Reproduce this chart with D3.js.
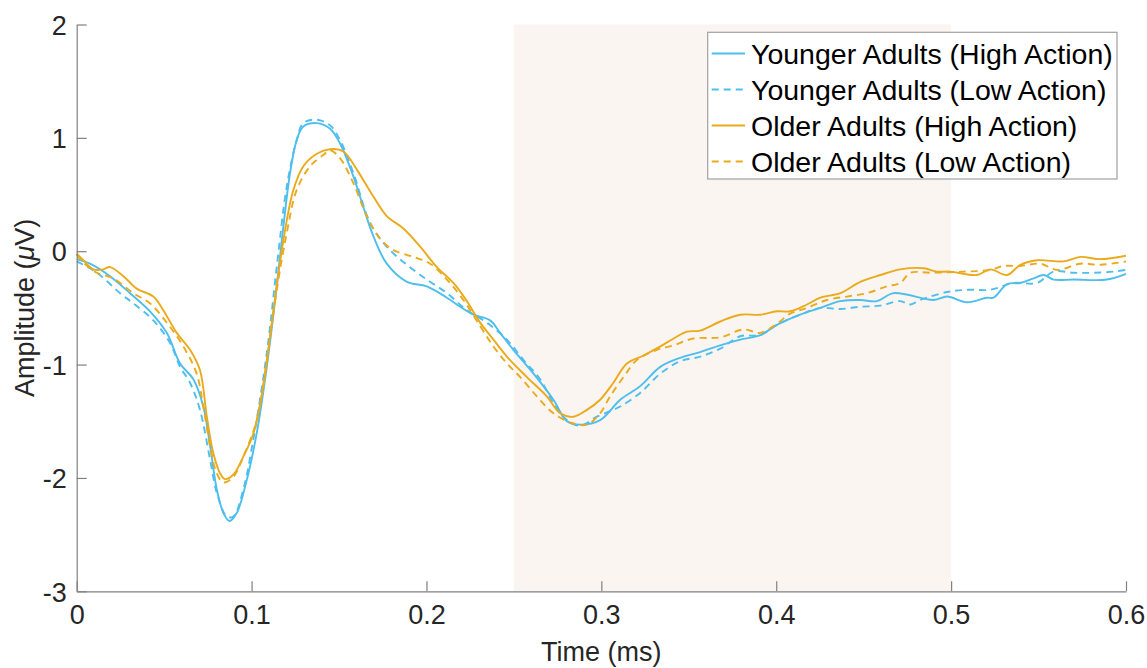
<!DOCTYPE html>
<html>
<head>
<meta charset="utf-8">
<script src="https://cdn.jsdelivr.net/npm/d3@7"></script>
<style>
  html, body { margin: 0; padding: 0; background: #fff; }
  svg { display: block; font-family: "Liberation Sans", Arial, sans-serif; }
</style>
</head>
<body>
<svg id="chart" width="1147" height="668"></svg>
<script>
// ---- data ----
const seriesNames = [
  "Younger Adults (High Action)",
  "Younger Adults (Low Action)",
  "Older Adults (High Action)",
  "Older Adults (Low Action)"
];
const xTicks = [0, 0.1, 0.2, 0.3, 0.4, 0.5, 0.6];
const yTicks = [-3, -2, -1, 0, 1, 2];
const shadeWindow = [0.25, 0.5];

const youngHighT = [0,0.0076,0.019,0.0305,0.0419,0.0515,0.0591,0.0667,0.0724,0.0763,0.0801,0.0839,0.0873,0.0915,0.0972,0.1030,0.1087,0.1144,0.1182,0.1220,0.1258,0.1296,0.1373,0.1449,0.1506,0.1582,0.1639,0.1697,0.1773,0.1888,0.2002,0.2117,0.2193,0.2269,0.2364,0.2421,0.2497,0.2612,0.2726,0.2803,0.2879,0.2993,0.3108,0.3222,0.3337,0.3451,0.3565,0.3680,0.3794,0.3909,0.4004,0.4137,0.4252,0.4366,0.4481,0.4576,0.4671,0.4900,0.4977,0.5091,0.5205,0.5243,0.5320,0.5396,0.5472,0.5529,0.5586,0.5701,0.5891,0.6];
const youngHighV = [-0.07,-0.11,-0.22,-0.37,-0.53,-0.72,-0.99,-1.13,-1.37,-1.72,-2.10,-2.31,-2.38,-2.31,-2.02,-1.60,-1.02,-0.31,0.22,0.69,0.98,1.10,1.13,1.08,0.95,0.66,0.39,0.13,-0.11,-0.27,-0.31,-0.41,-0.49,-0.56,-0.61,-0.72,-0.87,-1.08,-1.31,-1.50,-1.53,-1.49,-1.31,-1.19,-1.02,-0.94,-0.89,-0.83,-0.78,-0.74,-0.65,-0.56,-0.50,-0.44,-0.43,-0.44,-0.37,-0.43,-0.40,-0.45,-0.41,-0.41,-0.29,-0.28,-0.24,-0.21,-0.25,-0.25,-0.25,-0.20];

const youngLowT = [0,0.0076,0.0133,0.0248,0.0324,0.0438,0.0534,0.0591,0.0648,0.0705,0.0763,0.0801,0.0858,0.0896,0.0953,0.1010,0.1087,0.1144,0.1201,0.1258,0.1296,0.1373,0.1449,0.1506,0.1582,0.1678,0.1773,0.1888,0.2002,0.2117,0.2231,0.2345,0.2460,0.2555,0.2650,0.2726,0.2803,0.2879,0.2974,0.3050,0.3108,0.3222,0.3337,0.3451,0.3565,0.3680,0.3794,0.3909,0.4004,0.4137,0.4252,0.4366,0.4481,0.4595,0.4709,0.4767,0.4824,0.4977,0.5091,0.5224,0.5358,0.5491,0.5586,0.5701,0.5815,0.5930,0.6];
const youngLowV = [-0.09,-0.15,-0.21,-0.37,-0.46,-0.61,-0.81,-1.02,-1.16,-1.40,-1.84,-2.13,-2.34,-2.34,-2.10,-1.66,-0.90,-0.14,0.57,0.98,1.13,1.16,1.11,0.98,0.69,0.25,0.04,-0.12,-0.25,-0.37,-0.52,-0.63,-0.78,-0.96,-1.13,-1.34,-1.49,-1.54,-1.46,-1.41,-1.37,-1.25,-1.08,-0.97,-0.93,-0.86,-0.75,-0.74,-0.65,-0.56,-0.50,-0.51,-0.49,-0.48,-0.44,-0.47,-0.43,-0.36,-0.34,-0.34,-0.28,-0.28,-0.18,-0.19,-0.19,-0.18,-0.165];

const olderHighT = [0,0.0038,0.0095,0.0152,0.019,0.0267,0.0343,0.0438,0.0495,0.0572,0.0648,0.0705,0.0744,0.0781,0.0820,0.0848,0.0896,0.0953,0.1010,0.1067,0.1125,0.1182,0.1239,0.1296,0.1373,0.1449,0.1525,0.1602,0.1697,0.1773,0.1868,0.1964,0.2059,0.2154,0.2231,0.2307,0.2383,0.2460,0.2574,0.2688,0.2765,0.2841,0.2917,0.2993,0.3069,0.3146,0.3241,0.3337,0.3413,0.3489,0.3565,0.3680,0.3794,0.3909,0.4004,0.4080,0.4176,0.4252,0.4366,0.4481,0.4595,0.4709,0.4843,0.4919,0.4995,0.5148,0.5224,0.5320,0.5396,0.5491,0.5644,0.5739,0.5853,0.6];
const olderHighV = [-0.02,-0.08,-0.16,-0.16,-0.14,-0.22,-0.33,-0.40,-0.52,-0.72,-0.87,-1.05,-1.46,-1.78,-1.96,-2.01,-1.97,-1.81,-1.61,-1.19,-0.52,0.10,0.54,0.75,0.86,0.90,0.88,0.72,0.48,0.31,0.20,0.04,-0.14,-0.28,-0.44,-0.63,-0.78,-0.93,-1.11,-1.28,-1.43,-1.46,-1.40,-1.31,-1.16,-0.99,-0.92,-0.84,-0.77,-0.71,-0.70,-0.62,-0.56,-0.56,-0.53,-0.53,-0.47,-0.41,-0.37,-0.27,-0.21,-0.16,-0.15,-0.18,-0.18,-0.21,-0.16,-0.21,-0.12,-0.08,-0.09,-0.05,-0.07,-0.04];

const olderLowT = [0,0.0038,0.0114,0.0209,0.0324,0.0419,0.0515,0.0610,0.0686,0.0724,0.0763,0.0801,0.0839,0.0896,0.0953,0.1030,0.1087,0.1144,0.1201,0.1258,0.1335,0.1411,0.1449,0.1506,0.1582,0.1659,0.1735,0.1811,0.1925,0.2021,0.2117,0.2211,0.2307,0.2383,0.2460,0.2536,0.2631,0.2726,0.2841,0.2917,0.2993,0.3050,0.3127,0.3203,0.3318,0.3413,0.3527,0.3680,0.3813,0.3909,0.4004,0.4080,0.4176,0.4290,0.4404,0.4519,0.4633,0.4709,0.4767,0.4881,0.5072,0.5224,0.5299,0.5396,0.5510,0.5606,0.5739,0.5853,0.6];
const olderLowV = [-0.03,-0.10,-0.19,-0.24,-0.37,-0.46,-0.63,-0.84,-1.08,-1.37,-1.72,-1.96,-2.04,-1.99,-1.81,-1.49,-0.96,-0.34,0.16,0.54,0.75,0.85,0.89,0.82,0.60,0.31,0.11,0.01,-0.05,-0.11,-0.25,-0.43,-0.66,-0.84,-0.99,-1.11,-1.28,-1.43,-1.52,-1.53,-1.43,-1.28,-1.11,-0.96,-0.87,-0.83,-0.77,-0.76,-0.69,-0.72,-0.64,-0.55,-0.50,-0.43,-0.40,-0.37,-0.31,-0.28,-0.19,-0.19,-0.18,-0.165,-0.13,-0.13,-0.11,-0.165,-0.11,-0.12,-0.09];

const seriesColors = ["#4DBEEE", "#4DBEEE", "#EAAA1C", "#EAAA1C"];
const seriesDash = [null, "7,5", null, "7,5"];

// ---- layout ----
const svg = d3.select("#chart");
const m = { left: 76.7, right: 1126, top: 24.5, bottom: 591.3 };

const x = d3.scaleLinear().domain([0, 0.6]).range([m.left, m.right]);
const y = d3.scaleLinear().domain([-3, 2]).range([m.bottom, m.top]);

// shaded window
svg.append("rect")
  .attr("x", x(shadeWindow[0]))
  .attr("y", y(2))
  .attr("width", x(shadeWindow[1]) - x(shadeWindow[0]))
  .attr("height", y(-3) - y(2))
  .attr("fill", "#FAF5F1");

const series = [
  { t: youngHighT, v: youngHighV },
  { t: youngLowT, v: youngLowV },
  { t: olderHighT, v: olderHighV },
  { t: olderLowT, v: olderLowV }
];

const line = d3.line()
  .x(d => x(d[0]))
  .y(d => y(d[1]))
  .curve(d3.curveCatmullRom.alpha(0.5));

series.forEach((s, i) => {
  const pts = s.t.map((t, k) => [t, s.v[k]]);
  svg.append("path")
    .datum(pts)
    .attr("d", line)
    .attr("fill", "none")
    .attr("stroke", seriesColors[i])
    .attr("stroke-width", 1.9)
    .attr("stroke-dasharray", seriesDash[i])
    .attr("stroke-linejoin", "round");
});

// axes
const axisColor = "#808080";
const xAxis = svg.append("g")
  .attr("transform", `translate(0,${m.bottom})`)
  .call(d3.axisBottom(x).tickValues(xTicks).tickFormat(d => String(+d.toFixed(1))).tickSizeInner(-10).tickSizeOuter(0).tickPadding(14));
const yAxis = svg.append("g")
  .attr("transform", `translate(${m.left},0)`)
  .call(d3.axisLeft(y).tickValues(yTicks).tickFormat(d => String(d)).tickSizeInner(-10).tickSizeOuter(0).tickPadding(10));

[xAxis, yAxis].forEach(g => {
  g.select(".domain").attr("stroke", axisColor).attr("stroke-width", 1.2);
  g.selectAll(".tick line").attr("stroke", axisColor).attr("stroke-width", 1.2);
  g.selectAll(".tick text")
    .attr("fill", "#262626")
    .attr("font-size", 27)
    .attr("font-family", "'Liberation Sans', Arial, sans-serif");
});
yAxis.selectAll(".tick text").attr("dy", "0.36em");

// axis labels
svg.append("text")
  .attr("x", (m.left + m.right) / 2)
  .attr("y", 661)
  .attr("text-anchor", "middle")
  .attr("font-size", 27)
  .attr("fill", "#262626")
  .text("Time (ms)");

const yl = svg.append("text")
  .attr("transform", `translate(34,${(m.top + m.bottom) / 2}) rotate(-90)`)
  .attr("text-anchor", "middle")
  .attr("font-size", 27)
  .attr("fill", "#262626");
yl.append("tspan").text("Amplitude (");
yl.append("tspan").attr("font-style", "italic").text("\u03BC");
yl.append("tspan").text("V)");

// legend
const lg = svg.append("g");
lg.append("rect")
  .attr("x", 707.7).attr("y", 32.3)
  .attr("width", 1117 - 707.7).attr("height", 179 - 32.3)
  .attr("fill", "#fff")
  .attr("stroke", "#A0A0A0")
  .attr("stroke-width", 1.2);
seriesNames.forEach((name, i) => {
  const cy = 53.5 + i * 36;
  lg.append("line")
    .attr("x1", 711.7).attr("x2", 745)
    .attr("y1", cy).attr("y2", cy)
    .attr("stroke", seriesColors[i])
    .attr("stroke-width", 1.9)
    .attr("stroke-dasharray", seriesDash[i]);
  lg.append("text")
    .attr("x", 751)
    .attr("y", cy)
    .attr("dy", "0.36em")
    .attr("font-size", 28.5)
    .attr("fill", "#000")
    .text(name);
});
</script>
</body>
</html>
